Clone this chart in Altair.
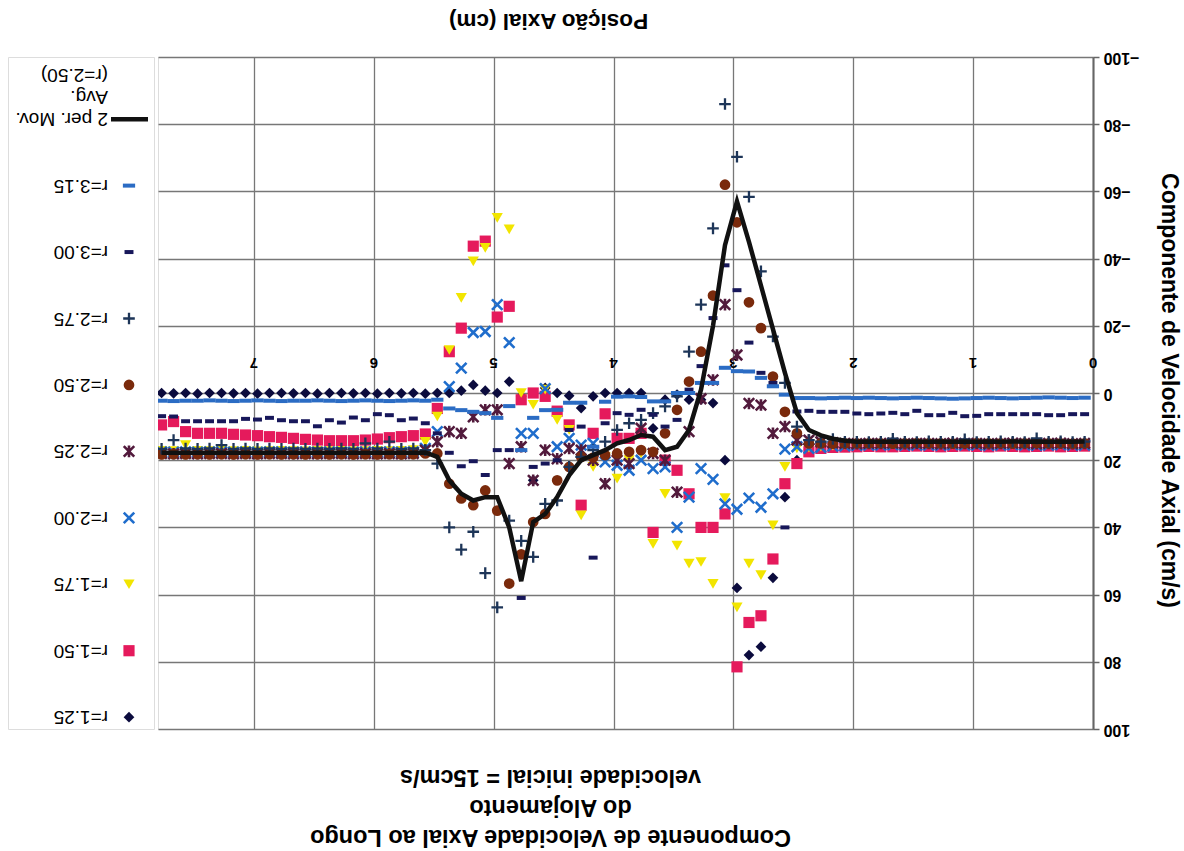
import altair as alt
import pandas as pd

FONT = "Liberation Sans"

# Axial positions (cm) of the measurement points
POS = [0.07, 0.17, 0.27, 0.37, 0.47, 0.57, 0.67, 0.77, 0.87, 0.97,
       1.07, 1.17, 1.27, 1.37, 1.47, 1.57, 1.67, 1.77, 1.87, 1.97,
       2.07, 2.17, 2.27, 2.37, 2.47, 2.57, 2.67, 2.77, 2.87, 2.97,
       3.07, 3.17, 3.27, 3.37, 3.47, 3.57, 3.67, 3.77, 3.87, 3.97,
       4.07, 4.17, 4.27, 4.37, 4.47, 4.57, 4.67, 4.77, 4.87, 4.97,
       5.07, 5.17, 5.27, 5.37, 5.47, 5.57, 5.67, 5.77, 5.87, 5.97,
       6.07, 6.17, 6.27, 6.37, 6.47, 6.57, 6.67, 6.77, 6.87, 6.97,
       7.07, 7.17, 7.27, 7.37, 7.47, 7.57, 7.67, 7.77]

R125 = [15.5, 15.6, 15.5, 15.4, 15.5, 15.6, 15.5, 15.5, 15.4, 15.5,
        15.6, 15.5, 15.5, 15.4, 15.5, 15.6, 15.5, 15.5, 15.6, 15.7,
        15.8, 16.0, 16.3, 17.0, 20.0, 31.0, 55.0, 75.5, 78.0, 58.0,
        20.0, 3.0, 2.0, 2.0, 0.5, 2.0, 10.5, 0.0, 0.0, 0.0,
        0.0, 1.0, 4.5, 0.8, 0.0, -1.5, 26.0, 1.0, -3.4, 0.0,
        -0.7, -2.4, -0.7, 0.0, 0.0, 0.2, 0.0, 0.1, 0.0, 0.2,
        0.0, 0.1, 0.0, 0.0, 0.2, 0.0, 0.1, 0.0, 0.0, 0.2,
        0.0, 0.1, 0.0, 0.0, 0.2, 0.0, 0.1, 0.0]

R150 = [15.8, 15.9, 16.0, 15.8, 15.9, 16.0, 15.9, 15.8, 16.0, 15.9,
        15.8, 15.9, 16.0, 15.9, 15.8, 15.9, 16.0, 16.0, 15.9, 16.0,
        16.1, 16.2, 16.5, 17.5, 21.0, 27.0, 49.4, 66.3, 68.3, 81.5,
        36.0, 40.0, 40.0, 30.0, 23.0, 20.0, 41.5, 12.0, 13.5, 13.5,
        6.2, 12.0, 33.4, 9.5, 5.4, 1.0, 0.0, 2.0, -25.8, -22.6,
        -45.2, -43.7, -19.3, -12.3, 4.6, 12.2, 12.7, 13.0, 13.3, 13.7,
        14.0, 14.2, 14.2, 14.2, 14.0, 13.8, 13.5, 13.2, 13.0, 12.7,
        12.5, 12.3, 12.0, 12.0, 12.0, 11.5, 8.5, 9.5]

R175 = [15.3, 15.2, 15.4, 15.3, 15.2, 15.3, 15.4, 15.3, 15.2, 15.3,
        15.3, 15.4, 15.2, 15.3, 15.3, 15.4, 15.3, 15.2, 15.3, 15.4,
        15.5, 15.7, 16.0, 16.3, 16.5, 22.0, 39.4, 54.2, 50.8, 63.8,
        31.3, 56.8, 50.3, 50.8, 45.4, 30.0, 44.9, 18.0, 20.0, 25.5,
        19.0, 22.0, 36.4, 11.0, 8.0, -1.0, 3.5, 0.0, -48.7, -52.1,
        -43.2, -39.2, -28.3, -12.8, 7.0, 14.5, 17.0, 17.2, 17.3, 17.2,
        17.3, 17.4, 17.2, 17.3, 17.2, 17.4, 17.3, 17.2, 17.3, 17.4,
        17.2, 17.3, 17.2, 17.3, 17.2, 15.5, 17.3, 17.2]

R200 = [15.5, 15.6, 15.4, 15.5, 15.6, 15.5, 15.4, 15.5, 15.6, 15.5,
        15.5, 15.4, 15.6, 15.5, 15.5, 15.6, 15.4, 15.5, 15.5, 15.6,
        15.7, 15.8, 16.2, 16.5, 16.0, 16.7, 30.0, 34.0, 31.3, 34.6,
        33.0, 25.7, 22.5, 31.0, 40.0, 22.0, 22.5, 20.0, 23.0, 21.5,
        20.5, 15.0, 15.5, 13.5, 16.0, -1.3, 12.0, 12.0, -15.0, -26.3,
        -18.3, -18.0, -7.4, -1.9, 11.5, 16.5, 17.5, 17.6, 17.5, 17.6,
        17.5, 17.6, 17.5, 17.5, 17.6, 17.5, 17.6, 17.5, 17.5, 17.6,
        17.5, 17.6, 17.5, 17.5, 17.6, 17.5, 17.6, 17.5]

R225 = [15.0, 15.1, 14.9, 15.0, 15.1, 15.0, 14.9, 15.0, 15.1, 15.0,
        15.0, 14.9, 15.1, 15.0, 15.0, 15.1, 14.9, 15.0, 15.0, 15.1,
        15.0, 14.8, 14.5, 14.0, 14.0, 10.0, 12.0, 3.6, 3.1, -11.3,
        -26.3, -3.9, 1.7, 11.5, 29.5, 20.0, 18.0, 10.5, 21.0, 20.0,
        27.0, 20.0, 17.0, 16.5, 19.6, 17.0, 26.0, 16.0, 21.0, 5.0,
        5.0, 7.1, 12.0, 11.5, 14.5, 17.0, 18.0, 18.1, 18.0, 18.1,
        18.0, 18.1, 18.0, 18.0, 18.1, 18.0, 18.1, 18.0, 18.0, 18.1,
        18.0, 18.1, 18.0, 18.0, 18.1, 18.0, 18.1, 18.0]

R250 = [15.0, 15.1, 15.0, 15.0, 14.9, 15.0, 15.1, 15.0, 15.0, 14.9,
        15.0, 15.1, 15.0, 15.0, 14.9, 15.0, 15.1, 15.0, 15.0, 15.0,
        15.0, 15.1, 15.0, 15.0, 12.0, 5.6, -4.9, -19.3, -27.0, -50.8,
        -62.0, -29.0, -12.3, -3.4, 5.0, 12.0, 17.5, 17.0, 17.5, 18.0,
        18.5, 19.2, 19.0, 22.0, 26.0, 36.0, 38.4, 48.0, 56.7, 35.0,
        29.0, 33.4, 31.4, 27.0, 18.0, 18.0, 18.2, 18.3, 18.2, 18.3,
        18.2, 18.3, 18.2, 18.3, 18.2, 18.3, 18.2, 18.3, 18.2, 18.3,
        18.2, 18.3, 18.2, 18.3, 18.2, 18.3, 18.2, 18.3]

R275 = [14.5, 14.6, 14.4, 14.5, 13.5, 14.6, 14.5, 14.4, 14.5, 14.6,
        13.8, 14.5, 14.5, 14.4, 14.6, 14.5, 13.6, 14.5, 14.6, 14.5,
        14.5, 13.7, 14.5, 14.0, 10.0, -3.0, -16.8, -36.2, -58.4, -70.3,
        -86.0, -49.0, -26.3, -12.3, 1.0, 4.0, 6.0, 8.0, 9.0, 11.0,
        14.5, 17.0, 19.0, 22.0, 32.0, 33.0, 48.8, 44.0, 38.0, 63.8,
        53.6, 41.3, 46.6, 40.0, 21.0, 17.0, 16.5, 16.6, 14.5, 16.5,
        15.0, 16.6, 16.5, 16.6, 16.5, 16.6, 16.5, 16.6, 16.5, 16.6,
        16.5, 16.6, 15.5, 16.5, 16.6, 16.5, 14.0, 16.6]

R300 = [6.3, 6.3, 6.6, 6.6, 6.3, 6.3, 6.3, 6.3, 6.3, 6.8,
        6.9, 5.9, 6.6, 6.6, 5.3, 6.3, 5.9, 6.1, 6.3, 6.1,
        5.6, 5.6, 5.6, 5.3, 5.5, 40.0, -3.0, -6.0, -15.0, -30.6,
        -38.0, -22.3, -8.0, -1.0, 8.0, 10.0, 6.5, 5.0, 6.5, 6.0,
        9.0, 49.0, 10.0, 11.0, 20.0, 21.0, 22.0, 61.0, 17.0, 17.0,
        24.4, 20.3, 21.8, 17.8, 12.0, 9.0, 7.6, 8.1, 6.6, 6.3,
        8.1, 7.3, 8.8, 8.1, 9.9, 8.4, 8.4, 8.1, 7.4, 7.9,
        7.7, 8.4, 8.4, 8.4, 8.4, 8.4, 7.0, 6.9]

R315 = [1.4, 1.5, 1.4, 1.3, 1.4, 1.5, 1.6, 1.5, 1.4, 1.5,
        1.6, 1.7, 1.6, 1.5, 1.4, 1.5, 1.6, 1.5, 1.4, 1.5,
        1.4, 1.5, 1.6, 1.5, 1.5, 0.5, -2.0, -4.5, -6.4, -6.5,
        -7.5, -3.0, -3.0, 0.0, 0.0, 2.5, 2.5, 1.2, 1.0, 1.1,
        2.6, 16.0, 2.9, 2.9, 5.0, 5.1, 7.4, 17.0, 3.9, 7.4,
        6.0, 5.6, 5.1, 4.6, 2.0, 2.3, 2.2, 2.3, 2.4, 2.3,
        2.2, 2.3, 2.4, 2.3, 2.2, 2.3, 2.3, 2.4, 2.3, 2.2,
        2.3, 2.4, 2.3, 2.2, 2.3, 2.3, 2.4, 2.3]

# 2-period moving average of r=2.50, as drawn
MOV_AVG = [14.4, 14.5, 14.4, 14.5, 14.4, 14.5, 14.4, 14.5, 14.4, 14.5,
           14.4, 14.5, 14.4, 14.5, 14.4, 14.5, 14.4, 14.5, 14.4, 14.5,
           14.2, 13.6, 12.6, 11.0, 6.0, -6.0, -19.0, -32.0, -45.0, -57.0,
           -44.0, -20.0, -1.0, 11.0, 16.0, 17.0, 13.0, 12.5, 14.0, 15.0,
           17.0, 18.5, 20.0, 24.5, 31.0, 36.0, 38.4, 56.0, 40.0, 31.0,
           31.0, 32.0, 30.0, 26.0, 19.0, 17.7, 17.8, 17.8, 17.8, 17.8,
           17.8, 17.8, 17.8, 17.8, 17.8, 17.8, 17.8, 17.8, 17.8, 17.8,
           17.8, 17.8, 17.8, 17.8, 17.8, 17.8, 17.8, 17.8]

SERIES = [("r=1.25", R125), ("r=1.50", R150), ("r=1.75", R175),
          ("r=2.00", R200), ("r=2.25", R225), ("r=2.50", R250),
          ("r=2.75", R275), ("r=3.00", R300), ("r=3.15", R315)]

X_TICKS = [0, 1, 2, 3, 4, 5, 6, 7]
Y_TICKS = [-100, -80, -60, -40, -20, 0, 20, 40, 60, 80, 100]

LEG_KEYS = ["MA", "r=3.15", "r=3.00", "r=2.75", "r=2.50", "r=2.25",
            "r=2.00", "r=1.75", "r=1.50", "r=1.25"]
LEG_TEXT = ["2 per. Mov.\nAvg.\n(r=2.50)", "r=3.15", "r=3.00", "r=2.75",
            "r=2.50", "r=2.25", "r=2.00", "r=1.75", "r=1.50", "r=1.25"]

TITLE_LINES = ["Componente de Velocidade Axial ao Longo", "do Alojamento",
               "velocidade inicial = 15cm/s"]

# ---------------- styles ----------------
XPATH = "M-1,-1L1,1M-1,1L1,-1"
STAR = "M-1,-1L1,1M-1,1L1,-1M0,-1.1L0,1.1"
PLUS = "M-1,0L1,0M0,-1L0,1"
DASH = "M-1,0L1,0"
STYLE = {
    "r=1.25": dict(shape="diamond", color="#0b0b3d", filled=True, size=115),
    "r=1.50": dict(shape="square", color="#e51a5c", filled=True, size=125),
    "r=1.75": dict(shape="triangle-down", color="#f2e500", filled=True, size=125),
    "r=2.00": dict(shape=XPATH, color="#1f6dcc", filled=False, size=110, strokeWidth=2.6),
    "r=2.25": dict(shape=STAR, color="#521a3c", filled=False, size=110, strokeWidth=2.6),
    "r=2.50": dict(shape="circle", color="#7a2a0c", filled=True, size=115),
    "r=2.75": dict(shape=PLUS, color="#1d3558", filled=False, size=135, strokeWidth=2.3),
    "r=3.00": dict(shape=DASH, color="#17175a", filled=False, size=80, strokeWidth=4),
    "r=3.15": dict(shape=DASH, color="#2b6cc4", filled=False, size=150, strokeWidth=4),
}
GRID = "#777777"

x_scale = alt.Scale(domain=[0, 7.8], reverse=True, nice=False, zero=False)
y_scale = alt.Scale(domain=[-100, 100], reverse=True, nice=False, zero=False)

X_ENC = alt.X(
    "pos:Q", scale=x_scale,
    axis=alt.Axis(orient="top", values=X_TICKS, labels=False, ticks=False,
                  domain=False, grid=True, gridColor=GRID, gridWidth=1.3,
                  title="Posição Axial (cm)", titleAngle=180, titleX=390,
                  titleY=-37, titleAlign="center", titleBaseline="middle",
                  titleFont=FONT, titleFontSize=22.5, titleFontWeight="bold",
                  titleColor="#000000"))
Y_ENC = alt.Y(
    "v:Q", scale=y_scale,
    axis=alt.Axis(orient="right", values=Y_TICKS, grid=True, gridColor=GRID,
                  gridWidth=1.3, labelAngle=180, labelAlign="right",
                  labelBaseline="middle", labelFont=FONT, labelFontSize=16,
                  labelFontWeight="bold", labelColor="#000000", labelPadding=4,
                  tickSize=6, tickColor="#666666", tickWidth=1.5,
                  domainColor="#666666", domainWidth=2,
                  title="Componente de Velocidade Axial (cm/s)", titleAngle=90,
                  titleX=75, titleY=333, titleAlign="center",
                  titleBaseline="middle", titleFont=FONT, titleFontSize=23,
                  titleFontWeight="bold", titleColor="#000000"))

layers = []
tick_df = pd.DataFrame({"pos": X_TICKS, "v": [0] * len(X_TICKS),
                        "lab": [str(t) for t in X_TICKS]})
layers.append(
    alt.Chart(tick_df).mark_text(angle=180, align="center", baseline="middle",
                                 dy=30, font=FONT, fontSize=15,
                                 fontWeight="bold", color="#000000")
    .encode(x=X_ENC, y=Y_ENC, text="lab:N"))

for name, vals in SERIES:
    df = pd.DataFrame({"pos": POS, "v": vals})
    st = dict(STYLE[name])
    layers.append(alt.Chart(df).mark_point(opacity=1, clip=True, **st)
                  .encode(x=X_ENC, y=Y_ENC))

ma_df = pd.DataFrame({"pos": POS, "v": MOV_AVG})
layers.append(alt.Chart(ma_df).mark_line(color="#111111", strokeWidth=4.5,
                                         clip=True)
              .encode(x=X_ENC, y=Y_ENC))

main = alt.layer(*layers).properties(width=935, height=672)

# ---------------- legend panel ----------------
leg_df = pd.DataFrame({"entry": LEG_KEYS, "label": LEG_TEXT})
LEG_Y = alt.Y("entry:N", axis=None,
              scale=alt.Scale(type="point", domain=LEG_KEYS, padding=0.557,
                              align=0.84))
leg_layers = [
    alt.Chart(leg_df).mark_text(angle=180, align="left", baseline="middle",
                                font=FONT, fontSize=19, lineBreak="\n",
                                lineHeight=22, color="#000000")
    .encode(y=LEG_Y, x=alt.value(100), text="label:N"),
    alt.Chart(leg_df[leg_df.entry == "MA"]).mark_rule(color="#111111",
                                                     strokeWidth=4.5)
    .encode(y=LEG_Y, x=alt.value(103), x2=alt.value(140)),
]
for name, _ in SERIES:
    st = dict(STYLE[name])
    leg_layers.append(alt.Chart(leg_df[leg_df.entry == name])
                      .mark_point(opacity=1, **st)
                      .encode(y=LEG_Y, x=alt.value(121)))
legend = alt.layer(*leg_layers).properties(width=146, height=672)

chart = (
    alt.hconcat(legend, main, spacing=2)
    .properties(
        padding={"left": 7, "top": 7, "right": 2, "bottom": 2},
        background="white",
        title=alt.TitleParams(text=TITLE_LINES, orient="bottom", anchor="middle",
                              angle=180, baseline="middle", align="center",
                              font=FONT, fontSize=23.5, fontWeight="bold",
                              lineHeight=30, offset=99, dx=43,
                              color="#000000"))
    .configure_view(stroke="#7f7f7f", strokeWidth=1.5)
    .configure(font=FONT)
)

chart.save("out.html", embed_options={"renderer": "svg", "actions": False})
